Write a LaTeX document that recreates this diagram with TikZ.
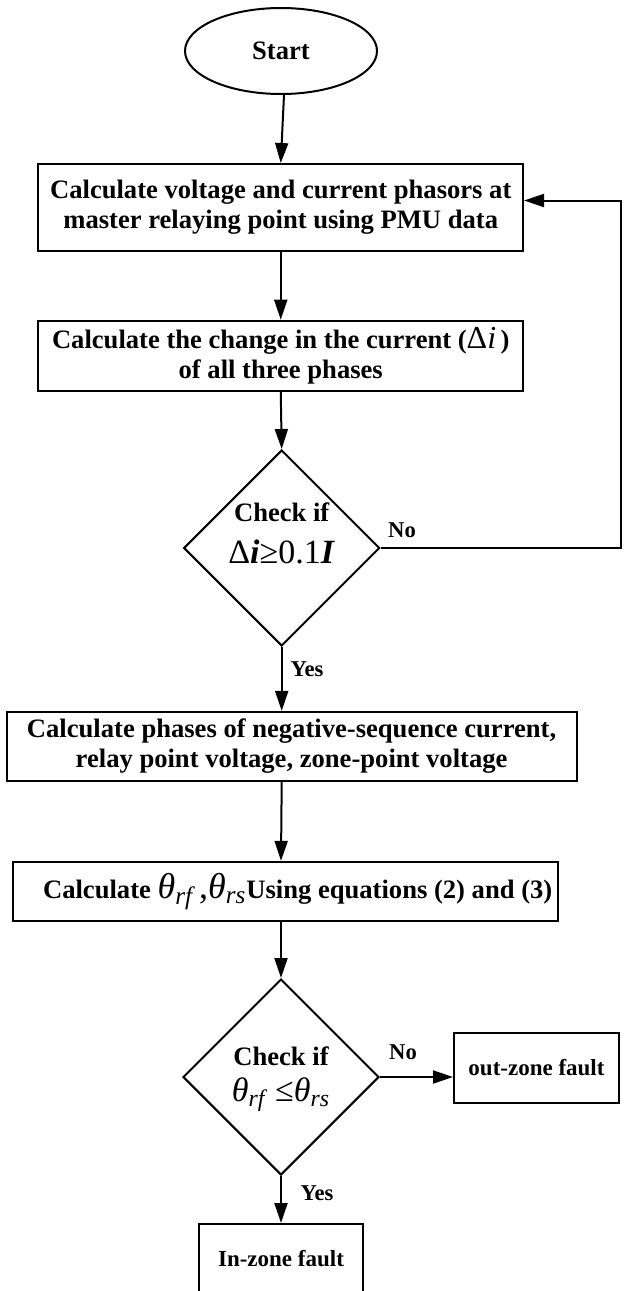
\documentclass[tikz,border=0pt]{standalone}
\usepackage{amsmath}
\usepackage{fontspec}
\setmainfont{Liberation Serif}
\usetikzlibrary{shapes.geometric,arrows.meta}

\tikzset{
  procbox/.style={draw, line width=1pt, align=center, inner sep=0pt,
    font=\fontsize{13.3}{15}\selectfont\bfseries},
  endbox/.style={draw, line width=1pt, align=center, inner sep=0pt,
    minimum width=82pt, minimum height=35pt,
    font=\fontsize{11.5}{13}\selectfont\bfseries},
  decision/.style={draw, diamond, line width=1pt, inner sep=0pt,
    minimum width=98pt, minimum height=98pt},
  flow/.style={line width=1pt, -{Triangle[length=10pt,width=6.5pt]}},
  yesno/.style={font=\fontsize{11.3}{13}\selectfont\bfseries}
}

\begin{document}
\begin{tikzpicture}[x=0.5pt,y=-0.5pt]
\useasboundingbox (0,0) rectangle (623,1291);
\clip (0,0) rectangle (623,1291);

\node[draw, ellipse, line width=1pt, minimum width=96pt, minimum height=43pt,
  font=\fontsize{13.3}{15}\selectfont\bfseries] (start) at (281,51) {Start};

\node[procbox, minimum width=242.3pt, minimum height=43.5pt] (calc1) at (280.75,207.5)
  {Calculate voltage and current phasors at\\master relaying point using PMU data};

\node[procbox, minimum width=242.3pt, minimum height=35pt] (change) at (280.75,355.7)
  {Calculate the change in the current ({\fontsize{16}{15}\selectfont\mdseries Δ\textit{i}}\,)\\of all three phases};

\node[decision] (check1) at (281.7,548) {};
\node[align=center, font=\fontsize{13.3}{15}\selectfont\bfseries] (check1txt) at (281.7,533)
  {Check if\\[6pt]{\fontsize{17}{20}\selectfont\mdseries Δ\textbf{\textit{i}}≥0.1\textbf{\textit{I}}}};

\node[procbox, minimum width=285pt, minimum height=34.5pt] (phases) at (291.6,746.4)
  {Calculate phases of negative-sequence current,\\relay point voltage, zone-point voltage};

\node[procbox, minimum width=272.5pt, minimum height=29.5pt] (theta) at (285.7,891.3)
  {\hspace*{12pt}Calculate {\fontsize{18}{15}\selectfont\mdseries $\textit{θ}_{\textit{rf}}$\,,$\textit{θ}_{\textit{rs}}$}Using equations (2) and (3)};

\node[decision] (check2) at (281,1077) {};
\node[align=center, font=\fontsize{13.3}{15}\selectfont\bfseries] (check2txt) at (281,1079)
  {Check if\\[3pt]{\fontsize{17}{20}\selectfont\mdseries $\textit{θ}_{\textit{rf}}\;\text{≤}\textit{θ}_{\textit{rs}}$}};

\node[endbox, minimum width=82.5pt] (outzone) at (536.5,1068) {out-zone fault};
\node[endbox] (inzone) at (281,1259) {In-zone fault};

% branch labels
\node[yesno] (no1) at (402,530) {No};
\node[yesno] (yes1) at (307,669) {Yes};
\node[yesno] (no2) at (403,1052) {No};
\node[yesno] (yes2) at (317,1193) {Yes};

% connectors
\coordinate (loop) at (621,548);
\draw[flow] ([xshift=1.5pt]start.south) -- (calc1.north);
\draw[flow] (calc1.south) -- (change.north);
\draw[flow] (change.south) -- (check1.north);
\draw[flow] (check1.east) -- (loop) |- ([yshift=3.5pt]calc1.east);
\draw[flow] (check1.south) -- (check1.south |- phases.north);
\draw[flow] (phases.south -| check1.south) -- (check2.north |- theta.north);
\draw[flow] (check2.north |- theta.south) -- (check2.north);
\draw[flow] (check2.east) -- (check2.east -| outzone.west);
\draw[flow] (check2.south) -- (inzone.north);
\end{tikzpicture}
\end{document}
